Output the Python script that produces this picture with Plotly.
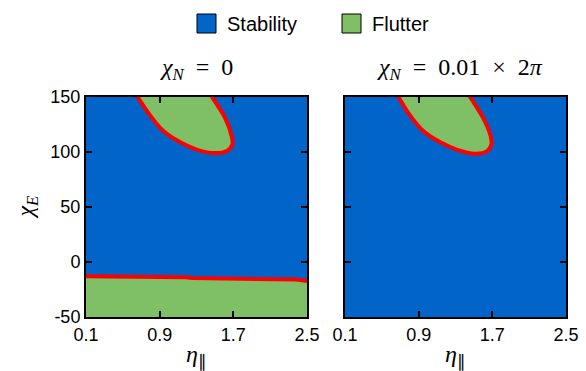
import plotly.graph_objects as go

# ---------------- data ----------------
ETA_RANGE = [0.1, 2.5]
CHI_RANGE = [-50, 150]
X_TICKS = [0.1, 0.9, 1.7, 2.5]
X_TICKTEXT = ["0.1", "0.9", "1.7", "2.5"]
Y_TICKS = [-50, 0, 50, 100, 150]
Y_TICKTEXT = ["-50", "0", "50", "100", "150"]

# upper flutter island, panel 1 (chi_N = 0)
up1_eta = [0.58, 0.66, 0.79, 0.94, 1.12, 1.31, 1.50, 1.63, 1.69, 1.68, 1.61, 1.47, 1.40]
up1_chi = [160, 150, 134, 119, 109, 102, 99, 101, 107, 115, 131, 150, 160]
# upper flutter island, panel 2 (chi_N = 0.01*2pi)
up2_eta = [0.60, 0.68, 0.80, 0.95, 1.13, 1.32, 1.51, 1.64, 1.69, 1.68, 1.60, 1.46, 1.39]
up2_chi = [160, 150, 134, 119, 109, 102, 98.5, 100.5, 107, 115, 131, 150, 160]
# lower flutter band boundary, panel 1
low1_eta = [0.05, 0.62, 0.68, 1.18, 1.25, 1.77, 1.84, 2.38, 2.46, 2.55]
low1_chi = [-12.8, -12.9, -13.6, -13.8, -14.6, -14.8, -15.6, -15.9, -16.8, -17.8]

BLUE = "#0064C8"
GREEN = "#7FBF66"
RED = "#FF0000"

fig = go.Figure()

for xa, ya in [("x", "y"), ("x2", "y2")]:
    fig.add_trace(go.Scatter(
        x=[ETA_RANGE[0], ETA_RANGE[1], ETA_RANGE[1], ETA_RANGE[0], ETA_RANGE[0]],
        y=[CHI_RANGE[0], CHI_RANGE[0], CHI_RANGE[1], CHI_RANGE[1], CHI_RANGE[0]],
        fill="toself", fillcolor=BLUE, line=dict(width=0), mode="lines",
        xaxis=xa, yaxis=ya, showlegend=False, hoverinfo="skip"))

# lower band (panel 1)
fig.add_trace(go.Scatter(
    x=low1_eta + [low1_eta[-1], low1_eta[0]],
    y=low1_chi + [CHI_RANGE[0] - 10, CHI_RANGE[0] - 10],
    fill="toself", fillcolor=GREEN, line=dict(width=0), mode="lines",
    xaxis="x", yaxis="y", showlegend=False, hoverinfo="skip"))
fig.add_trace(go.Scatter(
    x=low1_eta, y=low1_chi, mode="lines", line=dict(color=RED, width=4),
    xaxis="x", yaxis="y", showlegend=False))

for ex, ch, xa, ya in [(up1_eta, up1_chi, "x", "y"), (up2_eta, up2_chi, "x2", "y2")]:
    fig.add_trace(go.Scatter(
        x=ex, y=ch, fill="toself", fillcolor=GREEN, mode="lines",
        line=dict(color=RED, width=4, shape="spline", smoothing=1.0),
        xaxis=xa, yaxis=ya, showlegend=False))

W, H = 586, 371
ML, MR, MT, MB = 86, 20, 97, 54
PW, PH = W - ML - MR, H - MT - MB


def px(x):
    return (x - ML) / PW


def py(y):
    return (H - MB - y) / PH


axis_common = dict(showgrid=False, zeroline=False, showline=True, linecolor="black",
                   linewidth=2, mirror="ticks", ticks="inside", ticklen=6,
                   tickwidth=2, tickcolor="black", automargin=False,
                   tickfont=dict(family="Liberation Sans", size=18, color="black"))

fig.update_layout(
    width=W, height=H, margin=dict(l=ML, r=MR, t=MT, b=MB, autoexpand=False),
    paper_bgcolor="white", plot_bgcolor="white",
    showlegend=False,
    xaxis=dict(domain=[px(86), px(307)], range=ETA_RANGE, tickvals=X_TICKS,
               ticktext=X_TICKTEXT, anchor="y", **axis_common),
    yaxis=dict(domain=[0, 1], range=CHI_RANGE, tickvals=Y_TICKS,
               ticktext=Y_TICKTEXT, anchor="x", **axis_common),
    xaxis2=dict(domain=[px(345), px(566)], range=ETA_RANGE, tickvals=X_TICKS,
                ticktext=X_TICKTEXT, anchor="y2", **axis_common),
    yaxis2=dict(domain=[0, 1], range=CHI_RANGE, tickvals=Y_TICKS,
                ticktext=Y_TICKTEXT, anchor="x2", showticklabels=False, **axis_common),
)

serif = dict(family="Liberation Serif", size=24, color="black")
serif_ax = dict(family="Liberation Serif", size=24, color="black")
sp = "\u2002"
ann = [
    dict(text=f"<i>χ</i><sub><i>N</i></sub>{sp}={sp}0", x=px(196.5), y=py(69), font=serif),
    dict(text=f"<i>χ</i><sub><i>N</i></sub>{sp}={sp}0.01{sp}×{sp}2<i>π</i>", x=px(459.5), y=py(69), font=serif),
    dict(text="<i>η</i><sub>∥</sub>", x=px(196.5), y=py(356), font=serif_ax),
    dict(text="<i>η</i><sub>∥</sub>", x=px(455.5), y=py(356), font=serif_ax),
]
for a in ann:
    fig.add_annotation(xref="paper", yref="paper", showarrow=False,
                       xanchor="center", yanchor="middle", **a)
fig.add_annotation(text="<i>χ</i><sub><i>E</i></sub>", xref="paper", yref="paper",
                   x=px(26), y=py(207.5), textangle=-90, showarrow=False,
                   xanchor="center", yanchor="middle", font=serif_ax)

# manual legend
legend_items = [("Stability", BLUE, 197), ("Flutter", GREEN, 342)]
for name, col, x0 in legend_items:
    fig.add_shape(type="rect", xref="paper", yref="paper",
                  x0=px(x0), x1=px(x0 + 19), y0=py(33), y1=py(14),
                  fillcolor=col, line=dict(color="black", width=1))
    fig.add_annotation(text=name, xref="paper", yref="paper", x=px(x0 + 28), y=py(23.5),
                       xanchor="left", yanchor="middle", showarrow=False,
                       font=dict(family="Liberation Sans", size=20, color="black"))

fig.write_html("out.html", post_script="document.body.style.margin='0';")
